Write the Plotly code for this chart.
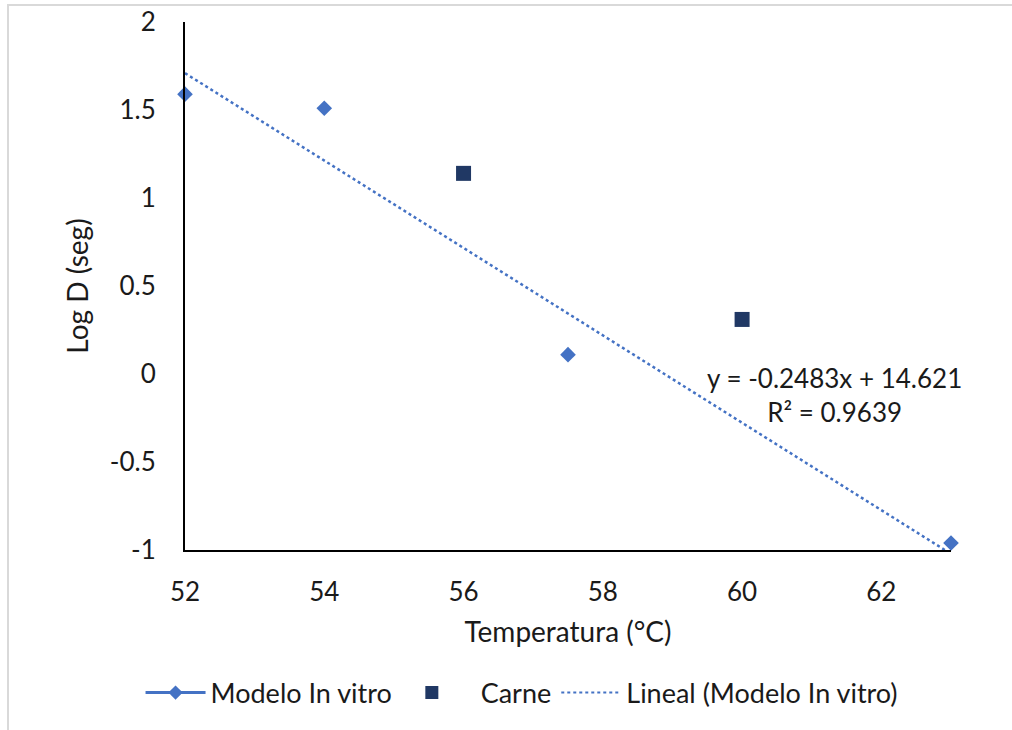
import plotly.graph_objects as go

# Temperature (°C) and log D values
invitro_temp = [52, 54, 57.5, 63]
invitro_logd = [1.59, 1.51, 0.11, -0.96]
carne_temp = [56, 60]
carne_logd = [1.14, 0.31]

# Linear fit of the in-vitro model
slope = -0.2483
intercept = 14.621
r2 = 0.9639
fit_x = [52, 63]
fit_y = [slope * x + intercept for x in fit_x]

x_ticks = [52, 54, 56, 58, 60, 62]
y_ticks = [-1, -0.5, 0, 0.5, 1, 1.5, 2]

BLUE = "#4472C4"
NAVY = "#203864"
INK = "#1a1a1a"
FONT = "Lato"
FS = 26      # tick labels / equation
FS_T = 28    # axis titles
FS_L = 27    # legend

W, H = 1012, 730
L, R, T, B = 185, 61, 22, 180

fig = go.Figure()

fig.add_trace(go.Scatter(
    x=fit_x, y=fit_y, mode="lines",
    line=dict(color=BLUE, width=2.5, dash="dot"),
    showlegend=False, hoverinfo="skip",
))
fig.add_trace(go.Scatter(
    x=invitro_temp, y=invitro_logd, mode="markers",
    marker=dict(symbol="diamond", size=12, color=BLUE),
    showlegend=False, cliponaxis=False,
))
fig.add_trace(go.Scatter(
    x=carne_temp, y=carne_logd, mode="markers",
    marker=dict(symbol="square", size=15, color=NAVY),
    showlegend=False, cliponaxis=False,
))

# Legend entries
fig.add_trace(go.Scatter(
    x=[None], y=[None], mode="lines+markers", name="Modelo In vitro",
    line=dict(color=BLUE, width=3),
    marker=dict(symbol="diamond", size=11, color=BLUE),
))
fig.add_trace(go.Scatter(
    x=[None], y=[None], mode="markers", name="\u00a0\u00a0Carne",
    marker=dict(symbol="square", size=13, color=NAVY),
))
fig.add_trace(go.Scatter(
    x=[None], y=[None], mode="lines", name="Lineal (Modelo In vitro)",
    line=dict(color=BLUE, width=2, dash="dot"),
))

fig.add_annotation(
    x=61.33, y=-0.12, xref="x", yref="y",
    text=f"y = {slope}x + {intercept}<br>R² = {r2}",
    showarrow=False, align="center",
    font=dict(family=FONT, size=FS, color=INK),
)

pw = W - L - R
ph = H - T - B
# outer chart-area frame
fig.add_shape(
    type="rect", xref="paper", yref="paper",
    x0=(8 - L) / pw, x1=(W + 10 - L) / pw,
    y0=-(H + 10 - T - ph) / ph, y1=(T - 5 + ph) / ph,
    line=dict(color="#d9d9d9", width=2), layer="below",
)

fig.update_layout(
    width=W, height=H,
    margin=dict(l=L, r=R, t=T, b=B, autoexpand=False),
    paper_bgcolor="white", plot_bgcolor="white",
    font=dict(family=FONT, size=FS, color=INK),
    showlegend=True,
    legend=dict(
        orientation="h", x=0.44, xanchor="center",
        y=-(693 - T - ph) / ph, yanchor="middle",
        font=dict(family=FONT, size=FS_L, color=INK),
        itemwidth=60, tracegroupgap=0,
    ),
    xaxis=dict(
        range=[52, 63], tickvals=x_ticks, ticktext=[str(v) for v in x_ticks],
        showgrid=False, zeroline=False, automargin=False,
        showline=True, linecolor="black", linewidth=2,
        ticks="", ticklabelstandoff=18,
        tickfont=dict(family=FONT, size=FS, color=INK),
        title=dict(text="Temperatura (°C)", standoff=16,
                   font=dict(family=FONT, size=FS_T, color=INK)),
    ),
    yaxis=dict(
        range=[-1, 2], tickvals=y_ticks,
        ticktext=[("%g" % v) for v in y_ticks],
        showgrid=False, zeroline=False, automargin=False,
        showline=True, linecolor="black", linewidth=2,
        ticks="", ticklabelstandoff=22,
        tickfont=dict(family=FONT, size=FS, color=INK),
        title=dict(text="Log D (seg)", standoff=13,
                   font=dict(family=FONT, size=FS_T, color=INK)),
    ),
)

fig.write_html("out.html")
